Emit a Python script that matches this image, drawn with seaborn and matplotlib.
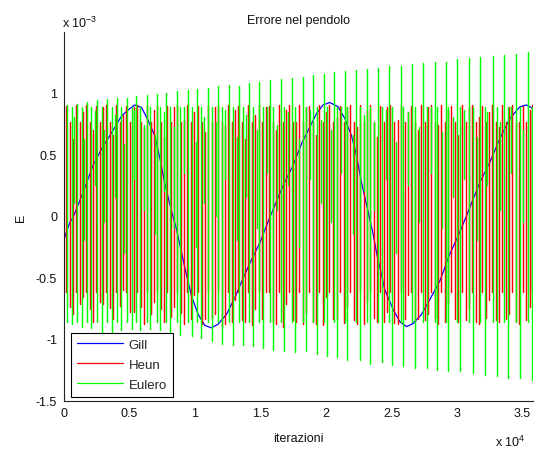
import matplotlib
matplotlib.use("Agg")
import matplotlib.pyplot as plt
import pandas as pd
import seaborn as sns
from matplotlib.ticker import FuncFormatter, FixedLocator

# ---------------- data (E in units of 1e-3, x in iterations) ----------------
E_SCALE = 1e-3

gill_iter = [0, 443, 695, 954, 1458, 2221, 2900, 3496, 4389, 4900, 5405, 5916, 6420,
             6931, 7313, 7695, 8206, 8588, 9221, 9733, 10237, 10748, 11260, 11763,
             12405, 13038, 13802, 14435, 14947, 15710, 16725, 17489, 18130, 18763,
             19275, 19779, 20290, 20924, 21435, 21947, 22328, 22710, 23220, 23600,
             23855, 24489, 25122, 25634, 26145, 26649, 27290, 27924, 28687, 29450,
             30100, 30725, 31740, 32504, 33267, 34031, 34794, 35305, 35809]
gill_E = [-0.19, -0.054, -0.013, 0.055, 0.19, 0.41, 0.55, 0.65, 0.81, 0.86, 0.90, 0.88,
          0.775, 0.65, 0.47, 0.26, 0.04, -0.11, -0.42, -0.65, -0.80, -0.89, -0.91,
          -0.88, -0.80, -0.665, -0.475, -0.33, -0.22, -0.013, 0.245, 0.41, 0.585,
          0.72, 0.83, 0.90, 0.92, 0.885, 0.79, 0.65, 0.49, 0.27, 0.03, -0.15, -0.30,
          -0.60, -0.76, -0.86, -0.90, -0.875, -0.80, -0.68, -0.53, -0.31, -0.16, 0.0,
          0.27, 0.435, 0.625, 0.79, 0.885, 0.90, 0.87]

# Eulero: upper spike tips, lower spike tips, and the shorter strokes between them
eul_top_iter = [237, 1000, 1763, 2527, 3290, 4053, 4771, 5534, 6344, 7061, 7824, 8588,
                9473, 10160, 11000, 11763, 12603, 13366, 14130, 14916, 15710, 16527,
                17366, 18206, 19015, 19832, 20595, 21473, 22313, 23137, 23977, 24817,
                25687, 26527, 27412, 28305, 29145, 30008, 30924, 31740, 32710, 33572,
                34489, 35427]
eul_top = [0.90, 0.91, 0.92, 0.94, 0.95, 0.96, 0.96, 0.97, 0.98, 0.99, 1.00, 1.01,
           1.02, 1.03, 1.04, 1.05, 1.06, 1.05, 1.08, 1.09, 1.10, 1.11, 1.12, 1.13,
           1.14, 1.15, 1.17, 1.175, 1.18, 1.19, 1.20, 1.22, 1.22, 1.23, 1.24, 1.245,
           1.25, 1.27, 1.28, 1.29, 1.30, 1.305, 1.31, 1.33]
eul_bot_iter = [573, 1336, 2099, 2863, 3626, 4389, 5153, 5786, 6550, 7313, 8090, 8860,
                9740, 10430, 11270, 12040, 12870, 13640, 14400, 15190, 15980, 16800,
                17630, 18480, 19290, 20100, 20870, 21626, 22580, 23343, 24236, 25000,
                25885, 26779, 27671, 28435, 29320, 30214, 31229, 32121, 33015, 33900,
                34794, 35686]
eul_bot = [-0.88, -0.90, -0.91, -0.94, -0.94, -0.93, -0.92, -0.93, -0.92, -0.93,
           -0.94, -0.97, -0.98, -0.99, -1.02, -1.04, -1.05, -1.05, -1.06,
           -1.07, -1.09, -1.10, -1.11, -1.10, -1.12, -1.14, -1.15,
           -1.17, -1.17, -1.20, -1.19, -1.21, -1.22, -1.24, -1.24, -1.25, -1.26,
           -1.26, -1.28, -1.29, -1.305, -1.32, -1.32, -1.33]
eul_inner = [-0.86, 0.88]
eul_mid_iter = [790, 1555, 2330, 3080, 3855, 4610, 5335, 6090, 6910, 7615, 8390, 9140,
                10040, 10715, 11565, 12320, 13170, 13920, 14695, 15470, 16275, 17080,
                17930, 18760, 19580, 20385, 21160, 22030, 22880, 23690, 24545, 25370,
                26250, 27080, 27980, 28860, 29710, 30560, 31490, 32295, 33275, 34125,
                35050]
eul_mid_hi = [0.80, 0.62, 0.85, 0.70, 0.82, 0.58, 0.86, 0.74, 0.66, 0.84, 0.72, 0.88,
              0.60, 0.80, 0.76, 0.86, 0.64, 0.82, 0.70, 0.88, 0.74, 0.84, 0.62, 0.86,
              0.78, 0.70, 0.88, 0.66, 0.82, 0.76, 0.86, 0.60, 0.84, 0.72, 0.88, 0.68,
              0.80, 0.86, 0.64, 0.84, 0.76, 0.88, 0.70]
eul_mid_lo = [0.10, -0.20, 0.25, -0.05, 0.15, -0.30, 0.30, 0.05, -0.15, 0.20, -0.10,
              0.35, -0.25, 0.10, 0.00, 0.30, -0.20, 0.15, -0.10, 0.35, 0.05, 0.25,
              -0.25, 0.30, 0.10, -0.05, 0.35, -0.15, 0.20, 0.05, 0.30, -0.30, 0.25,
              -0.05, 0.35, -0.10, 0.15, 0.30, -0.20, 0.25, 0.05, 0.35, -0.05]

# Heun: upper spike tips, lower spike tips, and the strokes between them
heun_top_iter = [120, 900, 1665, 2450, 3215, 4000, 4770, 5550, 6315, 7100, 7865, 8650,
                 9415, 10200, 10965, 11750, 12515, 13300, 14065, 14850, 15615, 16400,
                 17165, 17950, 18715, 19500, 20265, 21050, 21815, 22600, 23365, 24150,
                 24915, 25700, 26465, 27250, 28015, 28800, 29565, 30350, 31115, 31900,
                 32665, 33450, 34215, 35000, 35700]
heun_top = [0.89, 0.90, 0.90, 0.89, 0.90, 0.90, 0.89, 0.90, 0.90, 0.90, 0.89, 0.90,
            0.90, 0.89, 0.90, 0.90, 0.90, 0.89, 0.90, 0.90, 0.89, 0.90, 0.90, 0.90,
            0.89, 0.90, 0.90, 0.89, 0.90, 0.90, 0.90, 0.89, 0.90, 0.90, 0.89, 0.90,
            0.90, 0.90, 0.89, 0.90, 0.90, 0.89, 0.90, 0.90, 0.90, 0.89, 0.90]
heun_bot_iter = [420, 1200, 1960, 2750, 3520, 4300, 5060, 5850, 6620, 7400, 8160, 8950,
                 9720, 10500, 11260, 12050, 12820, 13600, 14360, 15150, 15920, 16700,
                 17460, 18250, 19020, 19800, 20560, 21350, 22120, 22900, 23660, 24450,
                 25220, 26000, 26760, 27550, 28320, 29100, 29860, 30650, 31420, 32200,
                 32960, 33750, 34520, 35300, 35790]
heun_bot = [-0.74, -0.72, -0.76, -0.70, -0.75, -0.73, -0.78, -0.74, -0.80, -0.76, -0.82,
            -0.79, -0.84, -0.88, -0.83, -0.90, -0.86, -0.85, -0.89, -0.84, -0.87, -0.90,
            -0.85, -0.88, -0.86, -0.89, -0.84, -0.87, -0.85, -0.88, -0.83, -0.86, -0.87,
            -0.84, -0.86, -0.85, -0.83, -0.86, -0.84, -0.85, -0.86, -0.83, -0.85, -0.84,
            -0.86, -0.85, -0.84]
heun_inner = [-0.62, 0.76]
heun_mid_iter = [660, 1445, 2200, 2990, 3760, 4535, 5310, 6085, 6860, 7635, 8410, 9185,
                 9960, 10735, 11510, 12285, 13060, 13835, 14610, 15385, 16160, 16935,
                 17710, 18485, 19260, 20035, 20810, 21585, 22360, 23135, 23910, 24685,
                 25460, 26235, 27010, 27785, 28560, 29335, 30110, 30885, 31660, 32435,
                 33210, 33985, 34760, 35535]
heun_mid_hi = [0.62, 0.84, 0.70, 0.88, 0.66, 0.82, 0.88, 0.72, 0.86, 0.64, 0.88, 0.78,
               0.84, 0.68, 0.88, 0.74, 0.86, 0.62, 0.82, 0.88, 0.70, 0.86, 0.76, 0.88,
               0.66, 0.84, 0.80, 0.88, 0.72, 0.86, 0.64, 0.88, 0.78, 0.84, 0.70, 0.88,
               0.74, 0.86, 0.66, 0.88, 0.80, 0.84, 0.72, 0.88, 0.76, 0.86]
heun_mid_lo = [-0.80, -0.66, -0.86, -0.72, -0.84, -0.60, -0.78, -0.88, -0.70, -0.86,
               -0.74, -0.88, -0.64, -0.84, -0.80, -0.88, -0.68, -0.86, -0.76, -0.62,
               -0.88, -0.72, -0.86, -0.80, -0.88, -0.66, -0.84, -0.74, -0.88, -0.70,
               -0.86, -0.78, -0.88, -0.64, -0.84, -0.80, -0.88, -0.72, -0.86, -0.76,
               -0.88, -0.68, -0.86, -0.80, -0.88, -0.74]

series_order = ["Gill", "Heun", "Eulero"]
series_colors = {"Gill": "#0000ff", "Heun": "#ff0000", "Eulero": "#00ff00"}
series_layer = {"Gill": 1.5, "Heun": 2.1, "Eulero": 2.2}
series_width = {"Gill": 0.9, "Heun": 1.05, "Eulero": 1.05}
x_ticks = [0, 5000, 10000, 15000, 20000, 25000, 30000, 35000]
y_ticks = [-1.5, -1.0, -0.5, 0.0, 0.5, 1.0]

# ---------------- build long table ----------------
rows = []
for x, y in zip(gill_iter, gill_E):
    rows.append(("Gill", 0, x, y))
stroke = 1


def add_strokes(name, xs, ys_a, ys_b):
    global stroke
    for x, ya, yb in zip(xs, ys_a, ys_b):
        rows.append((name, stroke, x, ya))
        rows.append((name, stroke, x, yb))
        stroke += 1


add_strokes("Heun", heun_top_iter, heun_top, [heun_inner[0]] * len(heun_top))
add_strokes("Heun", heun_bot_iter, heun_bot, [heun_inner[1]] * len(heun_bot))
add_strokes("Heun", heun_mid_iter, heun_mid_hi, heun_mid_lo)
add_strokes("Eulero", eul_top_iter, eul_top, [eul_inner[0]] * len(eul_top))
add_strokes("Eulero", eul_bot_iter, eul_bot, [eul_inner[1]] * len(eul_bot))
add_strokes("Eulero", eul_mid_iter, eul_mid_hi, eul_mid_lo)

df = pd.DataFrame(rows, columns=["serie", "stroke", "iterazioni", "E"])
df["E"] = df["E"] * E_SCALE

# ---------------- plot ----------------
sns.set_style("white")
plt.rcParams["font.family"] = ["Liberation Sans", "DejaVu Sans"]
plt.rcParams["axes.unicode_minus"] = False

fig = plt.figure(figsize=(5.39, 4.52), dpi=100)
ax = fig.add_axes([64 / 539, 1 - 401.5 / 452, 469 / 539, 368.2 / 452])

# drawn in the original order: Gill, then Heun, then Eulero on top
for name in series_order:
    sns.lineplot(data=df[df["serie"] == name], x="iterazioni", y="E",
                 hue="serie", units="stroke", estimator=None, sort=False,
                 hue_order=series_order, palette=series_colors,
                 linewidth=series_width[name], zorder=series_layer[name],
                 legend=(name == series_order[-1]), ax=ax)

ax.set_xlim(0, 35800)
ax.set_ylim(-1.5 * E_SCALE, 1.49 * E_SCALE)
ax.xaxis.set_major_locator(FixedLocator(x_ticks))
ax.yaxis.set_major_locator(FixedLocator([v * E_SCALE for v in y_ticks]))
ax.xaxis.set_major_formatter(FuncFormatter(lambda v, p: f"{round(v / 1e4, 6):g}"))
ax.yaxis.set_major_formatter(FuncFormatter(lambda v, p: f"{round(v / E_SCALE, 6):g}"))

for s in ["top", "right"]:
    ax.spines[s].set_visible(False)
for s in ["left", "bottom"]:
    ax.spines[s].set_color("#222222")
    ax.spines[s].set_linewidth(0.8)
    ax.spines[s].set_zorder(3)
ax.tick_params(direction="in", length=4, width=0.7, color="#222222",
               labelsize=9, pad=5, labelcolor="#111111")

ax.set_title("Errore nel pendolo", fontsize=9, pad=7, color="#111111")
ax.set_xlabel("iterazioni", fontsize=9, labelpad=9, color="#111111")
ax.set_ylabel("E", fontsize=9, labelpad=6, color="#111111")

ax.text(-0.004, 1.0144, r"x 10$^{\mathregular{-3}}$", transform=ax.transAxes,
        ha="left", va="baseline", fontsize=9, color="#111111")
ax.text(0.983, -0.1236, r"x 10$^{\mathregular{4}}$", transform=ax.transAxes,
        ha="right", va="baseline", fontsize=9, color="#111111")

sns.move_legend(ax, "lower left", bbox_to_anchor=(0.015, 0.0095), title=None,
                frameon=True, fancybox=False, edgecolor="black", framealpha=1,
                fontsize=9.5, handlelength=3.5, handletextpad=0.4,
                borderpad=0.45, labelspacing=0.6, borderaxespad=0)
leg = ax.get_legend()
leg.set_zorder(5)
leg.get_frame().set_linewidth(0.8)
for h in leg.legend_handles:
    h.set_linewidth(0.9)

fig.savefig("out.png", dpi=100)
